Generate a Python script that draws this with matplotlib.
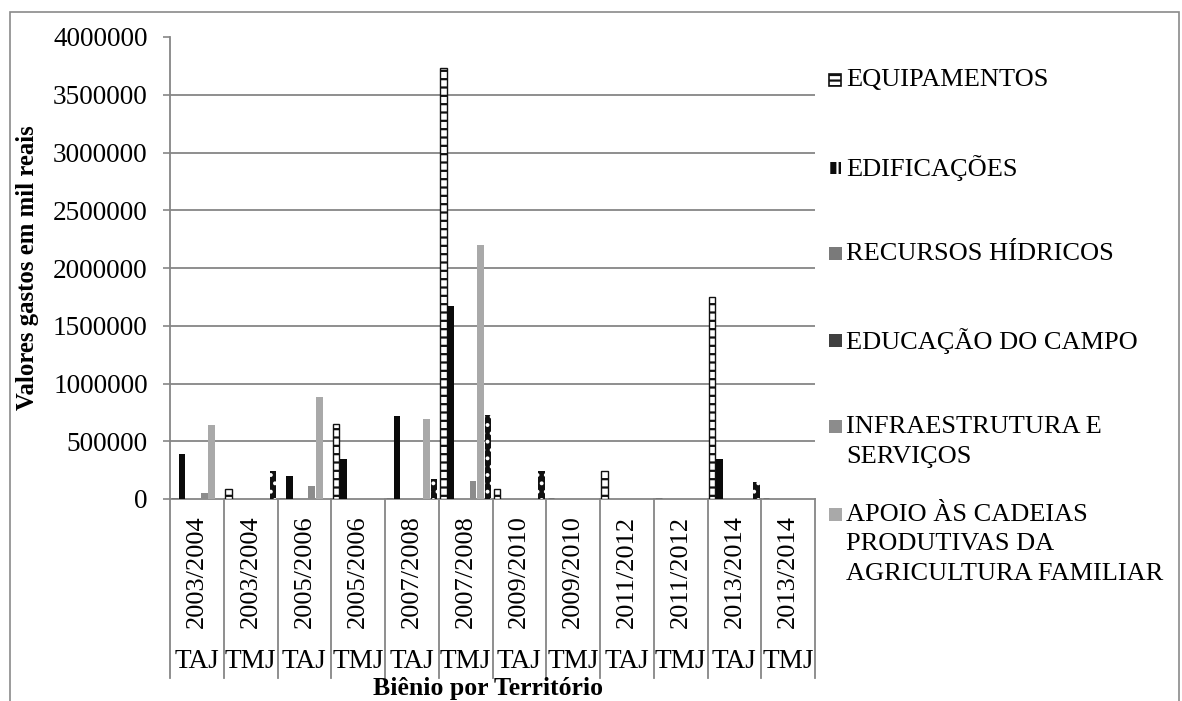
import numpy as np
import matplotlib.pyplot as plt
from matplotlib.patches import Rectangle
from matplotlib.lines import Line2D


#######################################################################################
# DATA
#######################################################################################
bienios = ['2003/2004', '2003/2004', '2005/2006', '2005/2006', '2007/2008', '2007/2008',
           '2009/2010', '2009/2010', '2011/2012', '2011/2012', '2013/2014', '2013/2014']
territorios = ['TAJ', 'TMJ'] * 6

equipamentos = [0, 90000, 0, 650000, 0, 3730000, 90000, 0, 240000, 0, 1750000, 0]
edificacoes = [390000, 0, 200000, 350000, 720000, 1670000, 0, 0, 0, 0, 350000, 0]
recursos_hidricos = [0] * 12
educacao_campo = [0] * 12
infraestrutura = [50000, 0, 110000, 0, 0, 160000, 0, 0, 0, 0, 0, 0]
apoio_cadeias = [640000, 0, 880000, 0, 690000, 2200000, 0, 0, 0, 0, 0, 0]
serie_sem_legenda = [0, 240000, 0, 0, 170000, 730000, 240000, 0, 0, 0, 150000, 0]

legenda = ['EQUIPAMENTOS', 'EDIFICAÇÕES', 'RECURSOS HÍDRICOS', 'EDUCAÇÃO DO CAMPO',
           'INFRAESTRUTURA E\nSERVIÇOS',
           'APOIO ÀS CADEIAS\nPRODUTIVAS DA\nAGRICULTURA FAMILIAR']

yticks = [0, 500000, 1000000, 1500000, 2000000, 2500000, 3000000, 3500000, 4000000]


#######################################################################################
# STYLE
#######################################################################################
plt.rcParams['font.family'] = ['Liberation Serif', 'DejaVu Serif']
plt.rcParams['hatch.linewidth'] = 1.6
fs = 19.6
fs_leg = 19.0
grey = '#868686'

series = [equipamentos, edificacoes, recursos_hidricos, educacao_campo,
          infraestrutura, apoio_cadeias, serie_sem_legenda]
# (facecolor, edgecolor, hatch)
styles = [('white', '#111111', '--'),
          ('#0a0a0a', '#0a0a0a', None),
          ('#7a7a7a', '#7a7a7a', None),
          ('#404040', '#404040', None),
          ('#8c8c8c', '#8c8c8c', None),
          ('#a9a9a9', '#a9a9a9', None),
          ('#111111', 'white', '..')]

W, H = 1182, 701
fig = plt.figure(figsize=(W / 100, H / 100), dpi=100)
ax = fig.add_axes([170 / W, 1 - 499 / H, (815 - 170) / W, (499 - 37) / H])

# Outer chart border
fig.patches.append(Rectangle((10 / W, -0.05), 1169 / W, 1 - 12 / H + 0.05,
                             transform=fig.transFigure, fill=False,
                             edgecolor='#8a8a8a', lw=1.2))

#
# Bars
x = np.arange(len(bienios))
slot = 0.138
gap = 0.017
bw = 0.125
for i, vals in enumerate(series):
    fc, ec, hatch = styles[i]
    pos = x - 0.5 + gap + slot * (i + 0.5)
    if hatch == '--':
        ax.bar(pos, vals, bw, facecolor=fc, edgecolor=ec, hatch=hatch, linewidth=1.0, zorder=3)
    elif hatch:
        ax.bar(pos, vals, bw, facecolor=fc, edgecolor=ec, hatch=hatch, linewidth=0, zorder=3)
    else:
        ax.bar(pos, vals, bw, color=fc, linewidth=0, zorder=3)

#
# Axes
ax.set_xlim(-0.5, len(bienios) - 0.5)
ax.set_ylim(0, 4000000)
ax.set_yticks(yticks)
ax.set_yticklabels([str(v) for v in yticks], fontsize=fs)
ax.tick_params(axis='y', length=5, width=1.2, color=grey, pad=11)
ax.set_xticks([])
for v in yticks[1:-1]:
    ax.axhline(v, color=grey, lw=1.3, zorder=1)
for s in ['top', 'right']:
    ax.spines[s].set_visible(False)
for s in ['left', 'bottom']:
    ax.spines[s].set_color(grey)
    ax.spines[s].set_linewidth(1.3)

#
# Multi level category axis
ph = 499 - 37
trans = ax.get_xaxis_transform()
for k in range(len(bienios) + 1):
    ax.add_line(Line2D([k - 0.5, k - 0.5], [0, -(678 - 499) / ph], transform=trans,
                       color=grey, lw=1.3, clip_on=False))
for k in range(len(bienios)):
    ax.text(k, -(572 - 499) / ph, bienios[k], transform=trans, rotation=90,
            ha='center', va='center', fontsize=fs - 0.6)
    ax.text(k, -(662 - 499) / ph, territorios[k], transform=trans,
            ha='center', va='center', fontsize=fs)

fig.text(488 / W, 1 - 689 / H, 'Biênio por Território', ha='center', va='center',
         fontsize=18.5, fontweight='bold')
fig.text(28 / W, 1 - 268 / H, 'Valores gastos em mil reais', ha='center', va='center',
         rotation=90, fontsize=17.8, fontweight='bold')

#
# Legend (drawn by hand, first six series)
leg_y = [80, 168, 254, 341, 427, 515]
for i, lab in enumerate(legenda):
    fc, ec, hatch = styles[i]
    yc = 1 - leg_y[i] / H
    if i == 0:
        fig.patches.append(Rectangle((829 / W, yc - 6 / H), 12 / W, 12 / H,
                                     transform=fig.transFigure, facecolor='white',
                                     edgecolor='#111111', hatch='---', lw=1.2))
    elif i == 1:
        fig.patches.append(Rectangle((829 / W, yc - 6 / H), 12 / W, 12 / H,
                                     transform=fig.transFigure, facecolor='#0a0a0a',
                                     edgecolor='white', hatch='||', lw=0))
    else:
        fig.patches.append(Rectangle((829 / W, yc - 6 / H), 13 / W, 13 / H,
                                     transform=fig.transFigure, facecolor=fc, lw=0))
    for j, line in enumerate(lab.split('\n')):
        fig.text(846 / W, 1 - (leg_y[i] + 29.5 * j) / H, line, ha='left', va='center',
                 fontsize=fs_leg)

plt.savefig('out.png', dpi=100)
